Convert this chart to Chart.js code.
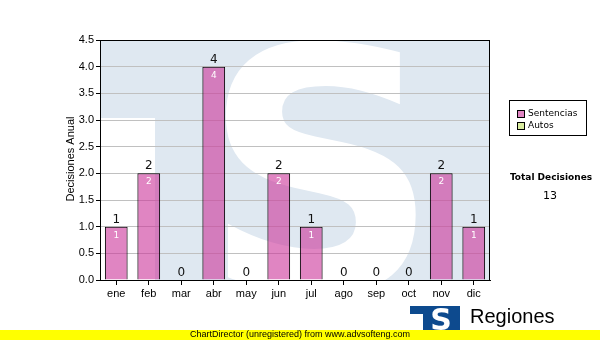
<!DOCTYPE html>
<html>
<head>
<meta charset="utf-8">
<script src="https://cdn.jsdelivr.net/npm/chart.js@4"></script>
<style>
  body { margin: 0; background: #fff; }
  #wrap { width: 600px; height: 340px; }
</style>
</head>
<body>
<div id="wrap"><canvas id="chart" width="600" height="340"></canvas></div>
<script>
var months = ['ene', 'feb', 'mar', 'abr', 'may', 'jun', 'jul', 'ago', 'sep', 'oct', 'nov', 'dic'];
var sentencias = [1, 2, 0, 4, 0, 2, 1, 0, 0, 0, 2, 1];
var autos = [0, 0, 0, 0, 0, 0, 0, 0, 0, 0, 0, 0];
var totalDecisiones = 13;

var colors = {
    sentencias: 'rgba(204, 51, 153, 0.6)',
    sentenciasSolid: '#df84c2',
    autos: '#d9ec9f',
    watermark: '#dfe8f1',
    grid: '#c0c0c0'
};

var sansFont = "'Liberation Sans', Arial, sans-serif";
var tahoma = "'DejaVu Sans', Verdana, sans-serif";

var decorPlugin = {
    id: 'decor',
    beforeDraw: function (chart) {
        var ctx = chart.ctx;
        var a = chart.chartArea;
        ctx.save();
        ctx.fillStyle = '#fff';
        ctx.fillRect(0, 0, chart.width, chart.height);
        ctx.beginPath();
        ctx.rect(a.left, a.top, a.right - a.left, a.bottom - a.top);
        ctx.clip();
        // watermark logo: light blue block with white S
        ctx.fillStyle = colors.watermark;
        ctx.fillRect(a.left, a.top, a.right - a.left, 78);
        ctx.fillRect(155, a.top, a.right - 155, a.bottom - a.top);
        ctx.fillStyle = '#fff';
        ctx.translate(321, 290);
        ctx.scale(1, 1.02);
        ctx.font = "bold 330px 'DejaVu Sans', sans-serif";
        ctx.textAlign = 'center';
        ctx.textBaseline = 'alphabetic';
        ctx.fillText('S', 0, 0);
        ctx.restore();
    },
    afterDatasetsDraw: function (chart) {
        var ctx = chart.ctx;
        var meta = chart.getDatasetMeta(0);
        ctx.save();
        ctx.textAlign = 'center';
        meta.data.forEach(function (bar, i) {
            var v = sentencias[i];
            ctx.fillStyle = '#111';
            ctx.font = '12px ' + tahoma;
            ctx.textBaseline = 'bottom';
            ctx.fillText(String(v), bar.x, bar.y - 1);
            if (v > 0) {
                ctx.fillStyle = '#fff';
                ctx.font = '9px ' + tahoma;
                ctx.textBaseline = 'top';
                ctx.fillText(String(v), bar.x, bar.y + 4);
            }
        });
        ctx.restore();
    },
    afterDraw: function (chart) {
        var ctx = chart.ctx;
        var a = chart.chartArea;
        ctx.save();
        // plot border
        ctx.strokeStyle = '#000';
        ctx.lineWidth = 1;
        ctx.strokeRect(a.left + 0.5, a.top + 0.5, a.right - a.left - 1, a.bottom - a.top);

        // y axis title
        ctx.save();
        ctx.translate(71, 159);
        ctx.rotate(-Math.PI / 2);
        ctx.fillStyle = '#000';
        ctx.font = '11px ' + sansFont;
        ctx.textAlign = 'center';
        ctx.textBaseline = 'middle';
        ctx.fillText('Decisiones Anual', 0, 0);
        ctx.restore();

        // legend
        ctx.strokeStyle = '#000';
        ctx.strokeRect(509.5, 100.5, 77, 35);
        ctx.fillStyle = colors.sentenciasSolid;
        ctx.fillRect(517, 110, 8, 8);
        ctx.strokeRect(517.5, 110.5, 7, 7);
        ctx.fillStyle = colors.autos;
        ctx.fillRect(517, 122, 8, 8);
        ctx.strokeRect(517.5, 122.5, 7, 7);
        ctx.fillStyle = '#000';
        ctx.font = '9px ' + tahoma;
        ctx.textAlign = 'left';
        ctx.textBaseline = 'middle';
        ctx.fillText('Sentencias', 528, 114);
        ctx.fillText('Autos', 528, 126);

        // total
        ctx.textAlign = 'center';
        ctx.font = 'bold 9px ' + tahoma;
        ctx.fillText('Total Decisiones', 551, 178);
        ctx.font = '11px ' + tahoma;
        ctx.fillText(String(totalDecisiones), 550, 196);

        // logo
        ctx.fillStyle = '#0d4a8e';
        ctx.fillRect(410, 306, 50, 26);
        ctx.fillStyle = '#fff';
        ctx.fillRect(410, 314, 13, 18);
        ctx.font = "bold 30px 'DejaVu Sans', sans-serif";
        ctx.textAlign = 'center';
        ctx.textBaseline = 'middle';
        ctx.fillText('S', 441, 322);
        ctx.fillStyle = '#000';
        ctx.font = '20px ' + sansFont;
        ctx.textAlign = 'left';
        ctx.textBaseline = 'alphabetic';
        ctx.fillText('Regiones', 470, 323);

        // footer band
        ctx.fillStyle = '#ffff00';
        ctx.fillRect(0, 330, chart.width, 10);
        ctx.fillStyle = '#000';
        ctx.font = '9px ' + sansFont;
        ctx.textBaseline = 'middle';
        ctx.fillText('ChartDirector (unregistered) from www.advsofteng.com', 190, 335);
        ctx.restore();
    }
};

var ctx = document.getElementById('chart').getContext('2d');
var chart = new Chart(ctx, {
    type: 'bar',
    data: {
        labels: months,
        datasets: [
            {
                label: 'Sentencias',
                data: sentencias,
                backgroundColor: colors.sentencias,
                borderColor: '#000',
                borderWidth: 1,
                borderSkipped: 'bottom',
                barPercentage: 0.7,
                categoryPercentage: 1
            },
            {
                label: 'Autos',
                data: autos,
                backgroundColor: colors.autos,
                borderColor: '#000',
                borderWidth: 0,
                barPercentage: 0.7,
                categoryPercentage: 1
            }
        ]
    },
    options: {
        responsive: false,
        animation: false,
        layout: { padding: { left: 0, top: 40, right: 110, bottom: 0 } },
        plugins: {
            legend: { display: false },
            tooltip: { enabled: false }
        },
        scales: {
            x: {
                stacked: true,
                grid: { display: true, drawOnChartArea: false, offset: false, tickLength: 5, tickColor: '#000' },
                border: { color: '#000' },
                ticks: { color: '#000', font: { family: sansFont, size: 11 }, padding: 2 },
                afterFit: function (scale) { scale.height = 60; }
            },
            y: {
                stacked: true,
                min: 0,
                max: 4.5,
                ticks: {
                    stepSize: 0.5,
                    color: '#000',
                    font: { family: sansFont, size: 11 },
                    padding: 2,
                    callback: function (v) { return Number(v).toFixed(1); }
                },
                grid: { color: colors.grid, tickColor: '#000', tickLength: 4 },
                border: { color: '#000' },
                afterFit: function (scale) { scale.width = 100; }
            }
        }
    },
    plugins: [decorPlugin]
});
</script>
</body>
</html>
